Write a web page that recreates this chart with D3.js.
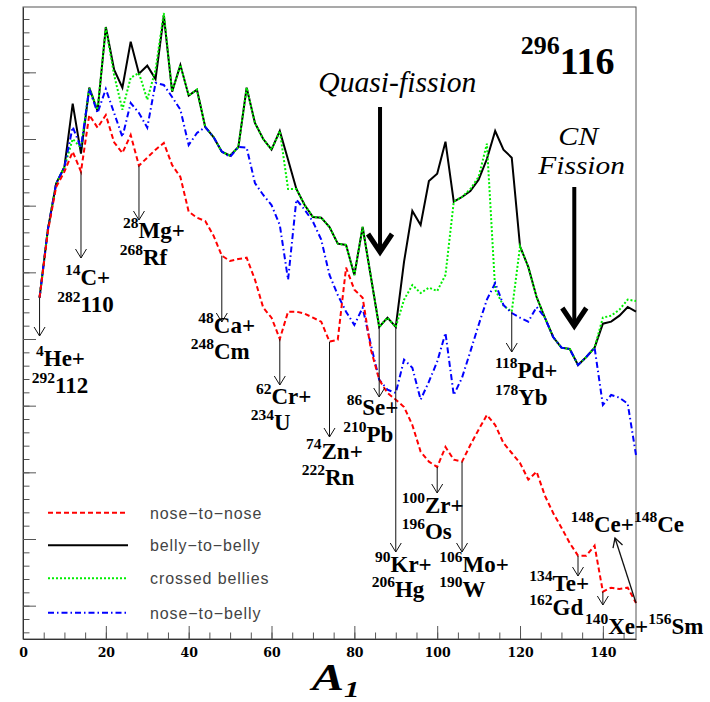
<!DOCTYPE html>
<html>
<head>
<meta charset="utf-8">
<script src="https://cdn.jsdelivr.net/npm/d3@7/dist/d3.min.js"></script>
<style>
  body { margin: 0; background: #fff; }
</style>
</head>
<body>
<div id="my_dataviz"></div>
<script>
// mass number of the light fragment
var A1 = [4, 6, 8, 10, 12, 14, 16, 18, 20, 22, 24, 26, 28, 30, 32, 34, 36, 38, 40, 42,
          44, 46, 48, 50, 52, 54, 56, 58, 60, 62, 64, 66, 68, 70, 72, 74, 76, 78, 80, 82,
          84, 86, 88, 90, 92, 94, 96, 98, 100, 102, 104, 106, 108, 110, 112, 114, 116, 118, 120, 122,
          124, 126, 128, 130, 132, 134, 136, 138, 140, 142, 144, 146, 148];

// curves (arbitrary units)
var noseToNose = [4.62, 5.61, 6.28, 6.51, 6.81, 6.51, 7.36, 7.17, 7.36, 6.95, 6.79, 7.06, 6.60, 6.72, 6.84, 6.94, 6.61, 6.43, 5.91, 5.82,
                  5.77, 5.55, 5.25, 5.17, 5.20, 5.22, 4.89, 4.47, 4.32, 4.00, 4.41, 4.41, 4.38, 4.32, 4.26, 3.96, 3.99, 5.07, 4.74, 4.62,
                  3.84, 3.39, 3.19, 3.09, 2.98, 2.71, 2.31, 2.16, 2.08, 2.38, 2.19, 2.16, 2.41, 2.64, 2.86, 2.71, 2.44, 2.29, 2.14, 1.89,
                  2.01, 1.65, 1.39, 1.17, 0.94, 0.75, 0.75, 0.90, 0.21, 0.27, 0.25, 0.27, 0.04];
var bellyToBelly = [4.62, 5.64, 6.33, 6.58, 7.53, 6.78, 7.77, 7.42, 8.68, 8.04, 7.77, 8.46, 7.98, 8.10, 7.90, 8.85, 7.71, 8.11, 7.65, 7.74,
                    7.18, 7.03, 6.81, 6.75, 6.88, 7.77, 7.24, 7.00, 6.84, 7.12, 6.69, 6.25, 6.01, 5.83, 5.82, 5.68, 5.43, 5.41, 4.96, 5.68,
                    4.93, 4.18, 4.32, 4.18, 5.16, 5.92, 5.71, 6.37, 6.48, 6.96, 6.06, 6.13, 6.22, 6.39, 6.70, 7.12, 6.84, 6.72, 5.39, 5.08,
                    4.63, 4.32, 4.03, 3.87, 3.85, 3.61, 3.73, 3.87, 4.23, 4.26, 4.35, 4.48, 4.41];
var crossedBellies = [4.62, 5.64, 6.33, 6.58, 7.00, 6.87, 7.77, 7.44, 8.67, 7.96, 7.44, 7.92, 7.99, 7.59, 8.04, 8.89, 7.71, 8.11, 7.65, 7.74,
                      7.18, 7.03, 6.81, 6.75, 6.88, 7.77, 7.24, 7.00, 6.84, 7.12, 6.25, 6.25, 6.01, 5.83, 5.82, 5.68, 5.43, 5.41, 4.96, 5.68,
                      4.93, 4.18, 4.32, 4.18, 4.59, 4.81, 4.69, 4.77, 4.72, 4.96, 6.06, 6.13, 6.25, 6.43, 6.93, 4.74, 4.50, 4.41, 5.39, 5.08,
                      4.63, 4.32, 4.03, 3.87, 3.85, 3.61, 3.73, 3.87, 4.32, 4.35, 4.44, 4.59, 4.57];
var noseToBelly = [4.62, 5.64, 6.33, 6.58, 7.18, 6.87, 7.75, 7.39, 7.75, 7.39, 7.03, 7.54, 7.39, 7.17, 7.84, 7.81, 7.63, 7.44, 6.91, 7.09,
                   7.18, 7.03, 6.81, 6.73, 6.88, 6.87, 6.34, 6.16, 6.01, 5.71, 4.89, 6.09, 5.94, 5.76, 5.49, 4.96, 4.66, 4.41, 4.21, 4.47,
                   3.91, 3.39, 3.24, 3.19, 3.69, 3.57, 3.09, 3.36, 3.66, 4.09, 3.16, 3.42, 3.81, 4.21, 4.59, 4.84, 4.51, 4.39, 4.32, 4.26,
                   4.48, 4.32, 4.03, 3.87, 3.85, 3.61, 3.73, 3.87, 3.01, 3.16, 3.12, 3.03, 2.26];

var legendLabels = ["nose\u2212to\u2212nose", "belly\u2212to\u2212belly", "crossed bellies", "nose\u2212to\u2212belly"];
var xTickValues = [0, 20, 40, 60, 80, 100, 120, 140];

// decay channels: "superscript|symbol" pairs
var channelA = [4, 14, 28, 48, 62, 74, 86, 90, 100, 106, 118, 134, 140, 148];
var channelLine1 = ["4|He+", "14|C+", "28|Mg+", "48|Ca+", "62|Cr+", "74|Zn+", "86|Se+", "90|Kr+", "100|Zr+", "106|Mo+",
                    "118|Pd+", "134|Te+", "140|Xe+|156|Sm", "148|Ce+|148|Ce"];
var channelLine2 = ["292|112", "282|110", "268|Rf", "248|Cm", "234|U", "222|Rn", "210|Pb", "206|Hg", "196|Os", "190|W",
                    "178|Yb", "162|Gd", "", ""];
var channelCurve = ["nn", "nn", "nn", "nn", "nn", "nn", "bb", "bb", "nn", "nn", "cb", "nn", "nn", "nn"];

// layout of the channel labels: [x1, y1, x2, y2, arrow tip y]
var channelLayout = [
  [36, 366, 31.7, 393, 336],
  [65, 285, 57.3, 311.7, 258],
  [123, 238.3, 119.7, 265, 220],
  [198.3, 332.7, 190.7, 359.3, 322],
  [256, 404, 250.7, 430, 385],
  [306, 459, 301.7, 485, 437],
  [346.7, 415, 343.3, 441.7, 397],
  [375, 571.7, 371.7, 597, 552],
  [401.7, 512.7, 401.7, 539, 493],
  [439.3, 571.7, 439.3, 597.3, 552],
  [495, 378.3, 495, 405, 352],
  [529.3, 591, 529.3, 614.5, 576],
  [585, 634, 0, 0, 605],
  [570.7, 531.7, 0, 0, 538]
];

var width = 710, height = 702;
var plot = {left: 23, right: 636, top: 7, bottom: 639};

var svg = d3.select("#my_dataviz")
    .append("svg")
    .attr("width", width)
    .attr("height", height)
    .style("background", "#fff");

var x = d3.scaleLinear().domain([0, 148]).range([plot.left, plot.right]);
var y = d3.scaleLinear().domain([-0.5, 8.98]).range([plot.bottom, plot.top]);

var serif = "'Liberation Serif', 'Times New Roman', serif";

// frame
svg.append("rect")
    .attr("x", plot.left).attr("y", plot.top)
    .attr("width", plot.right - plot.left).attr("height", plot.bottom - plot.top)
    .attr("fill", "none").attr("stroke", "#555").attr("stroke-width", 1);

// X axis: minor ticks every 5, major every 20
var minorX = [];
for (var i = 0; i <= 145; i += 5) minorX.push(i);
svg.append("g")
    .attr("transform", "translate(0," + plot.bottom + ")")
    .call(d3.axisBottom(x).tickValues(minorX).tickSize(-6.5).tickFormat(""))
    .call(function(g) { g.select(".domain").remove(); });
var xAxis = svg.append("g")
    .attr("transform", "translate(0," + plot.bottom + ")")
    .call(d3.axisBottom(x).tickValues(xTickValues).tickSize(-13).tickPadding(9).tickSizeOuter(0));
xAxis.selectAll("text")
    .attr("font-family", "'DejaVu Serif', serif")
    .attr("font-weight", "bold")
    .attr("font-size", 12.5)
    .attr("fill", "#000");

// Y axis, ticks only
var minorY = [];
for (var k = -2; k <= 44; k++) minorY.push(k * 0.2);
svg.append("g")
    .attr("transform", "translate(" + plot.left + ",0)")
    .call(d3.axisLeft(y).tickValues(minorY).tickSize(-6.5).tickFormat(""))
    .call(function(g) { g.select(".domain").remove(); });
svg.append("g")
    .attr("transform", "translate(" + plot.left + ",0)")
    .call(d3.axisLeft(y).tickValues([0, 1, 2, 3, 4, 5, 6, 7, 8]).tickSize(-13).tickFormat("").tickSizeOuter(0));

svg.selectAll(".tick line").attr("stroke", "#555");
svg.selectAll(".domain").attr("stroke", "#333");

// curves
var line = d3.line()
    .x(function(d, i) { return x(A1[i]); })
    .y(function(d) { return y(d); });

var curves = [
  {key: "bb", values: bellyToBelly, color: "#000", dash: null},
  {key: "cb", values: crossedBellies, color: "#00ee00", dash: "2,2"},
  {key: "nb", values: noseToBelly, color: "#0000ff", dash: "6,3,1.5,3"},
  {key: "nn", values: noseToNose, color: "#ff0000", dash: "5,3"}
];
var byKey = {};
curves.forEach(function(c) {
  byKey[c.key] = c.values;
  svg.append("path")
      .datum(c.values)
      .attr("d", line)
      .attr("fill", "none")
      .attr("stroke", c.color)
      .attr("stroke-width", 2)
      .attr("stroke-dasharray", c.dash);
});

// helpers
function arrow(x1, y1, x2, y2, head, half, w) {
  var ang = Math.atan2(y2 - y1, x2 - x1);
  var g = svg.append("g").attr("stroke", "#000").attr("fill", "none").attr("stroke-width", w);
  g.append("line").attr("x1", x1).attr("y1", y1).attr("x2", x2).attr("y2", y2);
  var bx = x2 - head * Math.cos(ang), by = y2 - head * Math.sin(ang);
  var px = -Math.sin(ang) * half, py = Math.cos(ang) * half;
  g.append("path")
      .attr("d", "M" + (bx + px) + "," + (by + py) + "L" + x2 + "," + y2 + "L" + (bx - px) + "," + (by - py));
  return g;
}

function isoText(xx, yy, spec) {
  if (!spec) return;
  var parts = spec.split("|");
  var t = svg.append("text")
      .attr("x", xx).attr("y", yy)
      .attr("font-family", serif)
      .attr("font-weight", "bold")
      .attr("font-size", 23)
      .attr("fill", "#000");
  for (var j = 0; j < parts.length; j += 2) {
    t.append("tspan").attr("font-size", 15.5).attr("dy", -10).text(parts[j]);
    t.append("tspan").attr("dy", 10).text(parts[j + 1]);
  }
}

// channel arrows and labels
channelA.forEach(function(a, i) {
  var L = channelLayout[i];
  var y0 = y(byKey[channelCurve[i]][A1.indexOf(a)]);
  if (a === 148) {
    arrow(x(a), y0, 615, L[4], 9, 5, 1.3).attr("stroke", "#111");
  } else {
    arrow(x(a), y0, x(a), L[4], 9, 5.5, 1).attr("stroke", "#111");
  }
  isoText(L[0], L[1], channelLine1[i]);
  isoText(L[2], L[3], channelLine2[i]);
});

// big arrows
function bigArrow(a, top, tip) {
  var xx = x(a);
  var g = svg.append("g").attr("stroke", "#000").attr("fill", "none");
  g.append("line").attr("x1", xx).attr("y1", top).attr("x2", xx).attr("y2", tip - 3).attr("stroke-width", 4);
  g.append("path")
      .attr("d", "M" + (xx - 12) + "," + (tip - 21) + "L" + xx + "," + (tip - 3) + "L" + (xx + 12) + "," + (tip - 21))
      .attr("stroke-width", 5)
      .attr("stroke-linejoin", "miter");
}
bigArrow(86.2, 107, 255);
bigArrow(133.1, 187, 329);

svg.append("text").attr("x", 318.3).attr("y", 91.7)
    .attr("font-family", serif).attr("font-style", "italic").attr("font-size", 29)
    .attr("textLength", 158).attr("lengthAdjust", "spacingAndGlyphs")
    .text("Quasi-fission");
svg.append("text").attr("x", 558.3).attr("y", 145)
    .attr("font-family", serif).attr("font-style", "italic").attr("font-size", 26)
    .attr("textLength", 40).attr("lengthAdjust", "spacingAndGlyphs")
    .text("CN");
svg.append("text").attr("x", 538.3).attr("y", 174)
    .attr("font-family", serif).attr("font-style", "italic").attr("font-size", 26)
    .attr("textLength", 86.7).attr("lengthAdjust", "spacingAndGlyphs")
    .text("Fission");

// compound nucleus
var cn = svg.append("text").attr("x", 520.7).attr("y", 74)
    .attr("font-family", serif).attr("font-weight", "bold").attr("font-size", 38);
cn.append("tspan").attr("font-size", 26).attr("dy", -20).text("296");
cn.append("tspan").attr("dy", 20).text("116");

// legend
var legendStyles = [
  {color: "#ff0000", dash: "5,3"},
  {color: "#000", dash: null},
  {color: "#00ee00", dash: "2,2"},
  {color: "#0000ff", dash: "6,3,1.5,3"}
];
var legendY = [512.7, 545.3, 578.3, 612.7];
legendLabels.forEach(function(lab, i) {
  svg.append("line")
      .attr("x1", 48).attr("x2", 128)
      .attr("y1", legendY[i]).attr("y2", legendY[i])
      .attr("stroke", legendStyles[i].color)
      .attr("stroke-width", 2)
      .attr("stroke-dasharray", legendStyles[i].dash);
  svg.append("text")
      .attr("x", 150).attr("y", legendY[i] + 6)
      .attr("font-family", "'Liberation Sans', Arial, sans-serif")
      .attr("font-size", 16)
      .attr("letter-spacing", 0.9)
      .attr("fill", "#444")
      .text(lab);
});

// axis title
var at = svg.append("text")
    .attr("transform", "translate(312,690) scale(1.3,1)")
    .attr("font-family", serif).attr("font-weight", "bold").attr("font-style", "italic")
    .attr("font-size", 37);
at.append("tspan").text("A");
at.append("tspan").attr("font-size", 24).attr("dy", 7).text("1");
</script>
</body>
</html>
